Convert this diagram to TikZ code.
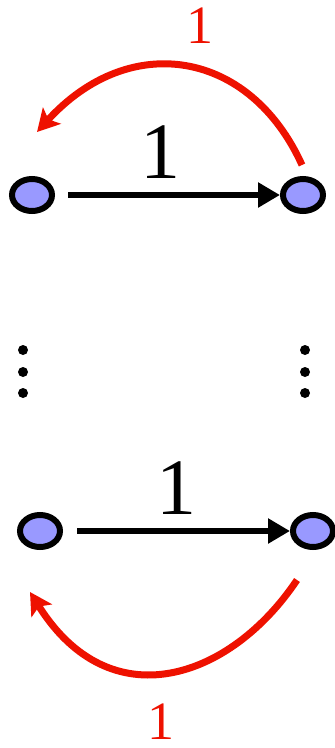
\documentclass[tikz,border=0pt]{standalone}
\usepackage{fontspec}
\setmainfont{Liberation Serif}
\usetikzlibrary{shapes.geometric,arrows.meta}
\definecolor{vfill}{HTML}{9999FF}
\definecolor{ered}{HTML}{EE1100}
\begin{document}
\begin{tikzpicture}[x=1pt,y=-1pt,
  vertex/.style={ellipse,draw=black,line width=6pt,fill=vfill,minimum width=40pt,minimum height=32pt,inner sep=0pt},
  edge/.style={line width=6pt,-{Triangle[length=22pt,width=24pt]}},
  back/.style={ered,line width=7pt,-{Stealth[length=22pt,width=24pt,inset=5pt]}},
  blab/.style={inner sep=0pt,font=\fontsize{80}{80}\selectfont},
  rlab/.style={inner sep=0pt,text=ered,font=\fontsize{54}{54}\selectfont},
  vdot/.style={circle,fill=black,minimum size=10pt,inner sep=0pt}]
\useasboundingbox (0,0) rectangle (335,748);
% top row
\node[vertex] (a1) at (32,195) {};
\node[vertex] (b1) at (303,195) {};
\draw[edge] (68,195) -- (b1.west);
\node[blab] (l1) at (160,152) {1};
\coordinate (s1) at (302,165);
\coordinate (e1) at (37,132);
\draw[back] (s1) .. controls (250,50) and (130,30) .. (e1);
\node[rlab] (r1) at (200,26) {1};
% dots
\node[vdot] (d1) at (23,350) {};
\node[vdot] (d2) at (23,372) {};
\node[vdot] (d3) at (23,393) {};
\node[vdot] (d4) at (305,350) {};
\node[vdot] (d5) at (305,372) {};
\node[vdot] (d6) at (305,393) {};
% bottom row
\node[vertex] (a2) at (40,531) {};
\node[vertex] (b2) at (313,531) {};
\draw[edge] (77,531) -- (b2.west);
\node[blab] (l2) at (176,488) {1};
\coordinate (s2) at (297,580);
\coordinate (e2) at (30,592);
\draw[back] (s2) .. controls (230,680) and (110,720) .. (e2);
\node[rlab] (r2) at (161,722) {1};
\end{tikzpicture}
\end{document}
